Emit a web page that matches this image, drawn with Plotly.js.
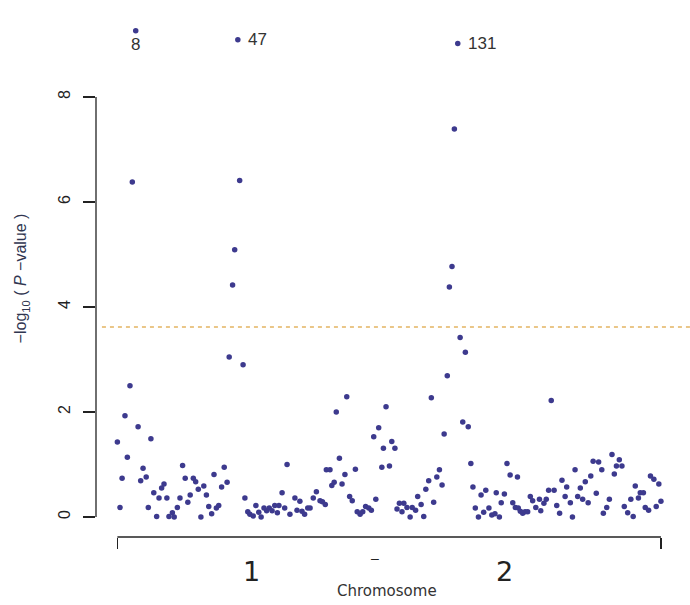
<!DOCTYPE html>
<html>
<head>
<meta charset="utf-8">
<script src="https://cdn.plot.ly/plotly-3.0.1.min.js"></script>
<style>html,body{margin:0;padding:0;background:#fff;}#chart{width:690px;height:605px;}</style>
</head>
<body>
<div id="chart"></div>
<script>
// SNP position (marker index along the genome) and -log10(P-value)
const snpPos = [
  1.0, 2.0, 2.8, 3.9, 4.8, 5.8, 6.7, 8.0, 8.9, 9.9, 10.8, 12.0, 12.8, 13.8, 14.9, 16.0, 16.9, 17.9, 18.8, 19.9,
  20.7, 22.0, 22.7, 23.9, 24.9, 25.9, 26.9, 27.9, 28.8, 30.0, 30.9, 31.9, 32.9, 34.0, 35.0, 35.9, 37.0, 37.9, 38.8, 39.7,
  40.8, 41.8, 42.9, 43.7, 45.0, 45.8, 47.0, 47.7, 49.0, 49.7, 50.8, 51.6, 52.9, 53.9, 55.0, 55.9, 57.0, 58.0, 59.0, 60.1,
  61.1, 62.1, 62.7, 63.9, 64.9, 65.8, 66.9, 68.8, 69.6, 70.7, 71.5, 72.5, 73.7, 74.6, 75.8, 77.0, 78.4, 79.3, 80.4, 80.8,
  82.2, 82.9, 83.8, 84.6, 85.8, 86.8, 87.9, 88.6, 89.7, 90.7, 91.9, 92.6, 93.7, 94.7, 95.8, 97.0, 98.0, 98.9, 99.7, 100.8,
  102.0, 102.6, 103.6, 104.9, 105.8, 107.0, 107.8, 108.7, 109.7, 110.4, 111.6, 112.8, 113.6, 114.9, 115.7, 117.0, 118.0, 118.8, 119.9, 120.9,
  121.8, 123.0, 124.0, 125.0, 125.8, 127.0, 127.8, 128.8, 129.7, 131.0, 131.9, 132.9, 133.9, 135.0, 136.0, 136.8, 137.7, 138.9, 139.9, 140.9,
  141.7, 142.9, 144.0, 145.2, 145.7, 146.9, 147.6, 148.8, 149.8, 151.0, 152.0, 153.0, 153.8, 154.1, 154.9, 155.8, 156.7, 157.7, 158.7, 159.6,
  160.8, 162.2, 162.7, 163.9, 164.8, 165.7, 166.7, 167.8, 168.8, 169.9, 170.8, 172.0, 172.6, 174.0, 174.8, 175.8, 176.8, 177.8, 178.7, 179.7,
  180.8, 181.8, 182.7, 183.9, 184.8, 186.0, 186.6, 187.9, 188.9, 189.9, 190.8, 191.6, 192.7, 193.7, 194.6, 195.9, 197.1, 198.0, 198.8, 200.0,
  200.7, 201.9, 202.6, 203.9, 204.6, 205.9, 206.8, 207.8, 208.6
];
const snpLogP = [
  1.43, 0.18, 0.74, 1.93, 1.14, 2.50, 6.38, 9.26, 1.72, 0.69, 0.93, 0.76, 0.18, 1.49, 0.46, 0.01, 0.36, 0.55, 0.63, 0.36,
  0.01, 0.08, 0.00, 0.18, 0.36, 0.98, 0.74, 0.28, 0.42, 0.74, 0.67, 0.53, 0.00, 0.59, 0.42, 0.20, 0.06, 0.81, 0.17, 0.22,
  0.57, 0.95, 0.66, 3.05, 4.42, 5.09, 9.09, 6.41, 2.90, 0.36, 0.10, 0.05, 0.02, 0.22, 0.09, 0.00, 0.17, 0.12, 0.17, 0.12,
  0.22, 0.08, 0.22, 0.46, 0.17, 1.00, 0.05, 0.36, 0.13, 0.30, 0.11, 0.05, 0.17, 0.17, 0.36, 0.48, 0.31, 0.29, 0.24, 0.90,
  0.90, 0.60, 0.66, 2.00, 1.12, 0.63, 0.81, 2.29, 0.39, 0.31, 0.91, 0.10, 0.05, 0.10, 0.20, 0.17, 0.13, 1.53, 0.34, 1.70,
  0.95, 1.31, 2.10, 0.97, 1.44, 1.31, 0.15, 0.26, 0.10, 0.26, 0.18, 0.00, 0.18, 0.13, 0.39, 0.24, 0.01, 0.53, 0.69, 2.27,
  0.28, 0.76, 0.90, 0.61, 1.58, 2.69, 4.38, 4.77, 7.39, 9.02, 3.42, 1.81, 3.14, 1.72, 1.02, 0.57, 0.17, 0.00, 0.42, 0.09,
  0.51, 0.17, 0.04, 0.06, 0.46, 0.00, 0.27, 0.44, 1.02, 0.80, 0.27, 0.18, 0.76, 0.17, 0.11, 0.07, 0.10, 0.10, 0.39, 0.31,
  0.18, 0.34, 0.12, 0.26, 0.34, 0.51, 2.22, 0.51, 0.22, 0.07, 0.70, 0.39, 0.57, 0.27, 0.00, 0.90, 0.39, 0.55, 0.34, 0.67,
  0.27, 0.78, 1.06, 0.45, 1.05, 0.90, 0.07, 0.18, 0.34, 1.19, 0.82, 0.97, 1.09, 0.97, 0.20, 0.08, 0.34, 0.01, 0.59, 0.36,
  0.46, 0.46, 0.18, 0.13, 0.78, 0.72, 0.20, 0.63, 0.30
];
// SNPs labelled above the axis top
const labelIds = [8, 47, 131];
// chromosome labels
const chrLabels = ['1', '2'];
const chrLabelPos = [52.3, 148.7];
const chrBoundary = [99.4];
// significance threshold (-log10 P)
const threshold = 3.62;
const yTickVals = [0, 2, 4, 6, 8];

const dotColor = '#3d3a8e';
const axisColor = '#222222';
const font = 'Liberation Sans, Arial, Helvetica, sans-serif';

const trace = {
  type: 'scatter', mode: 'markers',
  x: snpPos, y: snpLogP,
  marker: {color: dotColor, size: 5.5, line: {width: 0}},
  cliponaxis: false, hoverinfo: 'x+y'
};

const annotations = [];
labelIds.forEach((id, k) => {
  const i = snpPos.findIndex(p => Math.abs(p - id) < 0.05);
  const below = (k === 0);
  annotations.push({
    x: snpPos[i], y: snpLogP[i], xref: 'x', yref: 'y',
    text: String(id), showarrow: false,
    font: {family: font, size: 17, color: '#333'},
    xanchor: below ? 'center' : 'left', yanchor: 'middle',
    xshift: below ? 0 : 8, yshift: below ? -14 : 0
  });
});
chrLabels.forEach((t, k) => {
  annotations.push({
    x: chrLabelPos[k], y: -0.066, xref: 'x', yref: 'paper',
    text: t, showarrow: false, yanchor: 'middle', xanchor: 'center',
    font: {family: 'DejaVu Sans, sans-serif', size: 27, color: '#222'}
  });
});
chrBoundary.forEach(b => {
  annotations.push({
    x: b, y: -0.040, xref: 'x', yref: 'paper', text: '\u2013', showarrow: false,
    yanchor: 'middle', xanchor: 'center', font: {family: font, size: 14, color: '#222'}
  });
});
annotations.push({
  x: 0.49, y: -0.104, xref: 'paper', yref: 'paper', text: 'Chromosome', showarrow: false,
  yanchor: 'middle', xanchor: 'center', font: {family: 'DejaVu Sans, sans-serif', size: 15, color: '#333'}
});

const first = snpPos[0], last = snpPos[snpPos.length - 1];
const shapes = [
  {type: 'line', xref: 'paper', yref: 'y', x0: 0, x1: 0, y0: 0, y1: 8, line: {color: axisColor, width: 1.3}},
  {type: 'line', xref: 'x', yref: 'paper', x0: first, x1: last, y0: 0, y1: 0, line: {color: axisColor, width: 1.3}},
  {type: 'line', xref: 'paper', yref: 'y', x0: 0.01, x1: 1, y0: threshold, y1: threshold,
   line: {color: '#e3b462', width: 1.4, dash: '4px,4px'}}
];

const layout = {
  width: 690, height: 605,
  margin: {l: 96, r: 0, t: 20, b: 68},
  paper_bgcolor: '#fff', plot_bgcolor: '#fff',
  showlegend: false,
  font: {family: font, color: '#333'},
  xaxis: {
    range: [-7.17, 219.7], showgrid: false, zeroline: false, showline: false,
    tickmode: 'array', tickvals: [first, last],
    ticks: 'outside', ticklen: 11, tickwidth: 1.3, tickcolor: axisColor,
    showticklabels: false, fixedrange: true
  },
  yaxis: {
    range: [-0.381, 9.467], showgrid: false, zeroline: false, showline: false,
    tickmode: 'array', tickvals: yTickVals, ticktext: yTickVals.map(String),
    ticks: 'outside', ticklen: 12, tickwidth: 1.3, tickcolor: axisColor,
    tickangle: -90, tickfont: {family: font, size: 16, color: '#222'},
    ticklabelstandoff: 7,
    title: {text: '\u2212log<sub>10</sub> ( <i>P</i> \u2212value )', font: {family: font, size: 16, color: '#2f3550'}, standoff: 24},
    fixedrange: true
  },
  shapes: shapes,
  annotations: annotations
};

Plotly.newPlot('chart', [trace], layout, {displayModeBar: false, staticPlot: true});
</script>
</body>
</html>
